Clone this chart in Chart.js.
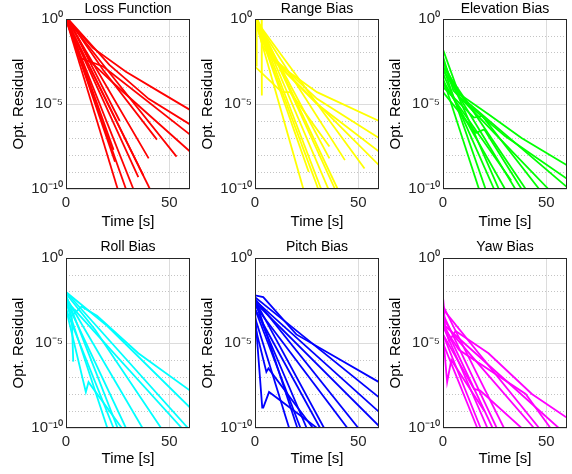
<!DOCTYPE html>
<html>
<head>
<meta charset="utf-8">
<script src="https://cdn.jsdelivr.net/npm/chart.js@4.4.1/dist/chart.umd.min.js"></script>
<style>
  body { margin: 0; background: #fff; }
  #fig { position: relative; width: 572px; height: 474px; }
  .panel { position: absolute; width: 195px; height: 237px; }
</style>
</head>
<body>
<div id="fig"></div>
<script>
// tick values
const xTicks = [0, 50];
const yMajor = [1, 1e-5, 1e-10];
const yMinor = [1e-1, 1e-2, 1e-3, 1e-4, 1e-6, 1e-7, 1e-8, 1e-9];
const yLabels = { 1: '10\u2070', 1e-5: '10\u207b\u2075', 1e-10: '10\u207b\u00b9\u2070' };

const titles = ['Loss Function', 'Range Bias', 'Elevation Bias', 'Roll Bias', 'Pitch Bias', 'Yaw Bias'];
const colors = ['#ff0000', '#ffff00', '#00ff00', '#00ffff', '#0000ff', '#ff00ff'];

// each run: [time s, residual]
const lossRuns = [
  [[0.5, 1], [13, 2e-2], [29, 8e-4], [45.5, 5e-5], [60, 4.5e-6]],
  [[1, 1], [21, 2e-3], [40, 2e-5], [60, 6.3e-7]],
  [[1, 1], [7, 5e-3], [18, 1.6e-3], [60, 1.6e-7]],
  [[1, 1], [12, 3e-3], [25, 1e-4], [60, 1.6e-8]],
  [[0.5, 1], [20, 1e-3], [53.5, 8e-9]],
  [[1, 1], [18, 1e-3], [44, 8e-8]],
  [[0.5, 1], [15, 1e-3], [40, 6.3e-9]],
  [[0, 1], [37.4, 6.3e-10]],
  [[0, 1], [35, 5e-10]],
  [[0, 1], [40.6, 1e-10]],
  [[0, 1], [32.6, 1e-10]],
  [[0, 1], [25, 1e-10]],
  [[0, 1], [23.7, 4e-9]],
  [[0.5, 1], [23, 2e-8]],
  [[1, 1], [26, 1e-6]],
  [[0, 1], [29, 1e-10]]
];
const rangeRuns = [
  [[0, 1], [4, 2e-2], [13.7, 1.3e-3], [30, 5e-5], [60, 1e-6]],
  [[0, 1], [7.3, 8e-3], [30, 2e-5], [60, 1e-7]],
  [[0, 1], [8, 5e-3], [30, 1e-5], [60, 1.6e-8]],
  [[0, 1], [10, 3e-3], [60, 2.5e-9]],
  [[0, 1], [53, 1.6e-9]],
  [[0, 1], [43.5, 5e-9]],
  [[0, 1], [36, 6.3e-9]],
  [[0, 1], [23.4, 1e-10]],
  [[0, 1], [30.6, 1e-10]],
  [[0.5, 1], [32, 1e-10]],
  [[0.5, 1], [35.5, 1e-10]],
  [[1, 1], [38.7, 1e-10]],
  [[1, 1], [40, 1e-10]],
  [[0.5, 1], [0.8, 1.6e-3]],
  [[3.2, 1], [3.3, 3.2e-5]],
  [[0, 1.6e-3], [13, 5e-5], [17, 5e-5], [36, 3.2e-8]],
  [[0, 1], [26, 1e-9]]
];
const elevRuns = [
  [[0, 1.6e-2], [7.7, 4e-5], [22, 2.5e-6], [38, 1e-7], [60, 2.5e-9]],
  [[0, 3.2e-3], [8, 2.5e-5], [30, 1.3e-7], [60, 4e-10]],
  [[0, 1e-3], [10, 2e-5], [60, 1.3e-10]],
  [[0, 6.3e-3], [5, 6.3e-5], [51, 1e-10]],
  [[0, 3.2e-4], [17.4, 1e-10]],
  [[0, 1.6e-3], [20.6, 1e-10]],
  [[0, 6.3e-4], [24.7, 1e-10]],
  [[0, 3.2e-3], [27, 1e-10]],
  [[0, 2.5e-4], [30, 1e-10]],
  [[0, 1e-3], [35, 1e-10]],
  [[0, 1.6e-3], [40, 1e-10]],
  [[0, 1e-4], [15, 1.6e-6], [19, 2e-6], [46.5, 1e-10]],
  [[0, 5e-5], [16, 2e-7], [20, 3.2e-7], [38, 1e-10]],
  [[0, 1.6e-4], [33, 3.2e-10]]
];
const rollRuns = [
  [[0, 5e-4], [2.8, 4e-4], [7.5, 1.4e-3], [15, 4e-4], [35, 2.5e-6], [60, 1.6e-8]],
  [[0, 1e-2], [20, 1e-4], [60, 1.6e-9]],
  [[0, 1e-2], [59, 1e-10]],
  [[0, 3.2e-3], [56, 1e-10]],
  [[0, 5e-3], [37, 1e-10]],
  [[0, 3.2e-3], [29, 1e-10]],
  [[0, 6.3e-3], [25, 1e-10]],
  [[0, 1e-3], [23, 1e-10]],
  [[0, 2.5e-3], [20, 1e-10]],
  [[0, 3.2e-3], [2.8, 3.2e-4], [3.5, 8e-7]],
  [[0, 1e-3], [9.6, 1.3e-8], [10.9, 5e-8], [27, 1e-10]],
  [[0, 8e-3], [14, 6.3e-5], [46, 1e-10]]
];
const pitchRuns = [
  [[0, 6.3e-3], [4, 5e-3], [20, 3.2e-5], [60, 5e-8]],
  [[0, 5e-3], [60, 6.3e-9]],
  [[0, 3.2e-3], [60, 8.9e-10]],
  [[0, 2.5e-3], [60, 1.3e-10]],
  [[0, 4e-3], [50, 1e-10]],
  [[0, 1.6e-3], [44.7, 1e-10]],
  [[0, 3.2e-3], [33.4, 1e-10]],
  [[0, 1e-3], [31.5, 1e-10]],
  [[0, 1e-3], [22, 1e-10]],
  [[0, 4e-3], [20.5, 1e-10]],
  [[0, 3.2e-4], [16.5, 1e-10]],
  [[0, 6.3e-4], [3.5, 1.6e-9], [4, 1.6e-9], [6.8, 1.3e-8], [30, 1e-10]],
  [[0, 1e-4], [5.5, 2e-7], [6.5, 3.2e-7], [28, 1e-10]],
  [[0, 3.2e-3], [4, 1e-4], [25, 1e-10]]
];
const yawRuns = [
  [[0, 1.6e-4], [3, 1.3e-5], [6.1, 5e-5], [22, 2.5e-6], [43, 1e-8], [60, 4e-10]],
  [[0, 5e-3], [1, 1e-4], [56, 1e-10]],
  [[0, 1e-3], [46.5, 1e-10]],
  [[0, 3.2e-4], [5, 3e-5], [44, 1e-10]],
  [[0, 1.6e-3], [29.5, 1e-10]],
  [[0, 5e-4], [26, 1e-10]],
  [[0, 1.6e-4], [24, 1e-10]],
  [[0, 1e-4], [21.5, 1e-10]],
  [[0, 3.2e-5], [18.2, 1e-10]],
  [[0, 1e-5], [16.6, 1e-10]],
  [[0, 3.2e-5], [15, 2e-8], [18, 1.6e-8], [38, 1e-10]],
  [[0, 3.2e-5], [2, 5e-8], [4, 1e-6], [20, 1e-9]],
  [[0, 1e-4], [7.7, 4e-6], [40, 1e-8], [52, 1e-10]],
  [[0, 5e-3], [0.5, 3.2e-4]]
];
const allRuns = [lossRuns, rangeRuns, elevRuns, rollRuns, pitchRuns, yawRuns];

const FONT = 'Liberation Sans, Arial, Helvetica, sans-serif';

// MATLAB style closed box around the axes
const boxPlugin = {
  id: 'box',
  afterDraw(chart) {
    const a = chart.chartArea, ctx = chart.ctx;
    ctx.save();
    ctx.strokeStyle = '#262626';
    ctx.lineWidth = 1;
    ctx.strokeRect(Math.round(a.left) + 0.5, Math.round(a.top) + 0.5,
      Math.round(a.right - a.left) - 1, Math.round(a.bottom - a.top) - 1);
    ctx.restore();
  }
};

const fig = document.getElementById('fig');
const colLeft = [0, 189, 377];

titles.forEach((title, i) => {
  const row = Math.floor(i / 3), col = i % 3;
  const div = document.createElement('div');
  div.className = 'panel';
  div.style.left = colLeft[col] + 'px';
  div.style.top = (row * 237) + 'px';
  const canvas = document.createElement('canvas');
  canvas.width = 195;
  canvas.height = 237;
  div.appendChild(canvas);
  fig.appendChild(div);

  new Chart(canvas, {
    type: 'line',
    data: {
      datasets: allRuns[i].map(run => ({
        data: run,
        borderColor: colors[i],
        borderWidth: 1.8,
        pointRadius: 0,
        tension: 0,
        fill: false,
        clip: 0
      }))
    },
    options: {
      responsive: false,
      animation: false,
      layout: { padding: { left: 0, right: 5, top: 0, bottom: 0 } },
      plugins: {
        legend: { display: false },
        tooltip: { enabled: false },
        title: {
          display: true,
          text: title,
          fullSize: false,
          color: '#000',
          font: { family: FONT, size: 14, weight: 'normal' },
          padding: row ? { top: 2, bottom: 2.2 } : { top: 1, bottom: 1.2 }
        }
      },
      scales: {
        x: {
          type: 'linear',
          min: 0,
          max: 60,
          afterBuildTicks: s => { s.ticks = xTicks.map(v => ({ value: v })); },
          afterFit: s => { s.height = row ? 46 : 48; },
          grid: { color: '#dcdcdc', drawTicks: false },
          border: { display: false },
          ticks: { padding: 5, color: '#262626', maxRotation: 0, font: { family: FONT, size: 15 } },
          title: { display: true, text: 'Time [s]', color: '#000', font: { family: FONT, size: 15 }, padding: { top: 0, bottom: 6 } }
        },
        y: {
          type: 'logarithmic',
          min: 1e-10,
          max: 1,
          afterBuildTicks: s => { s.ticks = yMajor.map(v => ({ value: v })); },
          afterFit: s => { s.width = 66; },
          grid: { color: '#dcdcdc', drawTicks: false },
          border: { display: false },
          ticks: { padding: 3, color: '#262626', font: { family: FONT, size: 15 }, callback: v => yLabels[v] || '' },
          title: { display: true, text: 'Opt. Residual', color: '#000', font: { family: FONT, size: 15 }, padding: { top: 10, bottom: 0 } }
        },
        yMinor: {
          type: 'logarithmic',
          position: 'left',
          min: 1e-10,
          max: 1,
          afterBuildTicks: s => { s.ticks = yMinor.map(v => ({ value: v })); },
          afterFit: s => { s.width = 0; },
          grid: { color: '#c4c4c4', drawTicks: false },
          border: { display: false, dash: [1, 2] },
          ticks: { display: false }
        }
      }
    },
    plugins: [boxPlugin]
  });
});
</script>
</body>
</html>
